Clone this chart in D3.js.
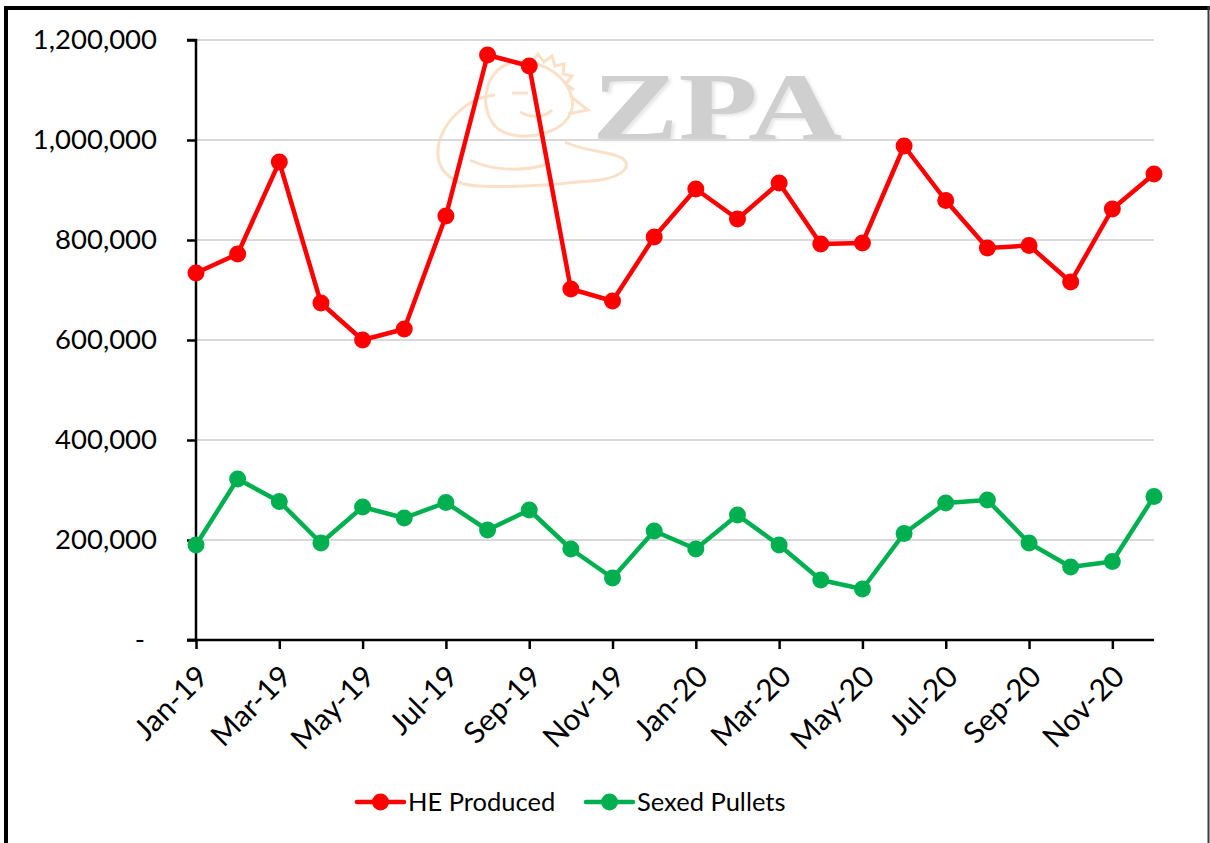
<!DOCTYPE html>
<html>
<head>
<meta charset="utf-8">
<script src="https://cdn.jsdelivr.net/npm/d3@7"></script>
<style>
  body { margin: 0; background: #fff; }
  svg text { font-family: Lato, "Open Sans", sans-serif; fill: #000; }
</style>
</head>
<body>
<div id="chart"></div>
<script>
// data
const months = ["Jan-19","Feb-19","Mar-19","Apr-19","May-19","Jun-19","Jul-19","Aug-19","Sep-19","Oct-19","Nov-19","Dec-19",
                "Jan-20","Feb-20","Mar-20","Apr-20","May-20","Jun-20","Jul-20","Aug-20","Sep-20","Oct-20","Nov-20","Dec-20"];
const heProduced = [734000, 772000, 956000, 674000, 600000, 622000, 848000, 1170000, 1148000, 702000, 678000, 806000,
                    902000, 842000, 914000, 792000, 794000, 988000, 879000, 784000, 789000, 716000, 862000, 932000];
const sexedPullets = [190000, 322000, 277000, 194000, 266000, 244000, 275000, 220000, 260000, 182000, 124000, 218000,
                      182000, 250000, 190000, 120000, 102000, 213000, 274000, 280000, 194000, 146000, 157000, 287000];
const yTicks = [0, 200000, 400000, 600000, 800000, 1000000, 1200000];
const seriesNames = ["HE Produced", "Sexed Pullets"];
const seriesColors = ["#FF0000", "#00B050"];

const W = 1210, H = 843;
const svg = d3.select("#chart").append("svg")
  .attr("width", W).attr("height", H);

// frame
svg.append("rect").attr("x", 4).attr("y", 6).attr("width", 1206).attr("height", 4).attr("fill", "#000");
svg.append("rect").attr("x", 4).attr("y", 6).attr("width", 4).attr("height", H - 6).attr("fill", "#000");
svg.append("rect").attr("x", 1207.5).attr("y", 6).attr("width", 2).attr("height", H - 6).attr("fill", "#3a3a3a");

const x = d3.scalePoint().domain(months).range([196, 1154]);
const y = d3.scaleLinear().domain([0, 1200000]).range([640, 40]);

// watermark
const defs = svg.append("defs");
defs.append("filter").attr("id", "wmshadow")
  .append("feDropShadow").attr("dx", 3).attr("dy", 2).attr("stdDeviation", 1.5)
  .attr("flood-color", "#bbb").attr("flood-opacity", 0.35);
const wm = svg.append("g").attr("class", "watermark");
const peach = "#FBE0C8";
wm.append("path")
  .attr("d", "M515,62 C488,66 478,100 492,122 C500,136 525,140 548,132 C566,126 575,112 572,98 C568,80 548,60 515,62 Z")
  .attr("fill", "none").attr("stroke", peach).attr("stroke-width", 3);
wm.append("path")
  .attr("d", "M532,62 L538,54 L544,62 L552,56 L555,66 L564,64 L563,74 L572,76 L566,84 L574,90")
  .attr("fill", "none").attr("stroke", peach).attr("stroke-width", 3);
wm.append("path")
  .attr("d", "M570,96 L588,110 L568,114")
  .attr("fill", "none").attr("stroke", peach).attr("stroke-width", 3);
wm.append("path")
  .attr("d", "M495,95 C465,98 440,125 438,150 C436,172 455,186 480,186 C520,188 560,184 600,180 C625,176 632,165 622,158 C605,150 585,152 565,142")
  .attr("fill", "none").attr("stroke", peach).attr("stroke-width", 3);
wm.append("path")
  .attr("d", "M512,93 L528,93 M520,112 C530,118 545,118 552,110 M470,160 C490,170 520,172 545,165")
  .attr("fill", "none").attr("stroke", peach).attr("stroke-width", 3);
wm.append("text")
  .attr("x", 592).attr("y", 139)
  .attr("textLength", 250).attr("lengthAdjust", "spacingAndGlyphs")
  .attr("filter", "url(#wmshadow)")
  .style("font-family", "'Liberation Serif', serif").style("font-weight", "bold")
  .style("font-size", "96px").style("fill", "#CFCFCF")
  .text("ZPA");

// gridlines
svg.append("g").selectAll("line")
  .data(yTicks.filter(d => d > 0))
  .join("line")
    .attr("x1", 196).attr("x2", 1154)
    .attr("y1", d => y(d)).attr("y2", d => y(d))
    .attr("stroke", "#D9D9D9").attr("stroke-width", 2);

// y axis
const yAxis = svg.append("g")
  .attr("transform", "translate(196,0)")
  .call(d3.axisLeft(y).tickValues(yTicks).tickSize(9).tickPadding(30)
    .tickFormat(d => d === 0 ? "-" : d3.format(",")(d)));
yAxis.select(".domain").attr("stroke", "#000").attr("stroke-width", 2.5)
  .attr("d", "M-9,40H0V640H-9");
yAxis.selectAll(".tick line").attr("stroke", "#000").attr("stroke-width", 2.5);
yAxis.selectAll(".tick text")
  .style("font-size", "27.5px").style("font-family", "Lato, sans-serif")
  .attr("dx", d => d === 0 ? -12 : 0);

// x axis
const xAxis = svg.append("g")
  .attr("transform", "translate(0,640)")
  .call(d3.axisBottom(x).tickValues(months.filter((m, i) => i % 2 === 0)).tickSize(9).tickSizeOuter(0));
xAxis.select(".domain").attr("stroke", "#000").attr("stroke-width", 2.5)
  .attr("d", "M187,0H1154");
xAxis.selectAll(".tick line").attr("stroke", "#000").attr("stroke-width", 2.5);
xAxis.selectAll(".tick text")
  .style("font-size", "30px").style("font-family", "Lato, sans-serif")
  .attr("text-anchor", "end")
  .attr("dx", 0).attr("dy", 0)
  .attr("transform", "translate(5,30) rotate(-45)");

// series
const series = [heProduced, sexedPullets];
const line = d3.line().x((d, i) => x(months[i])).y(d => y(d));
series.forEach((vals, s) => {
  svg.append("path")
    .datum(vals)
    .attr("d", line)
    .attr("fill", "none")
    .attr("stroke", seriesColors[s])
    .attr("stroke-width", 4.5)
    .attr("stroke-linejoin", "round");
  svg.append("g").selectAll("circle")
    .data(vals)
    .join("circle")
      .attr("cx", (d, i) => x(months[i]))
      .attr("cy", d => y(d))
      .attr("r", 8.5)
      .attr("fill", seriesColors[s]);
});

// legend
const legendX = [357, 586];
seriesNames.forEach((name, s) => {
  const g = svg.append("g").attr("transform", `translate(${legendX[s]},802)`);
  g.append("line").attr("x1", 0).attr("x2", 47).attr("y1", 0).attr("y2", 0)
    .attr("stroke", seriesColors[s]).attr("stroke-width", 4.5).attr("stroke-linecap", "round");
  g.append("circle").attr("cx", 23.5).attr("cy", 0).attr("r", 8.5).attr("fill", seriesColors[s]);
  g.append("text").attr("x", 51).attr("y", 0).attr("dy", "0.36em")
    .style("font-size", "25.5px").text(name);
});
</script>
</body>
</html>
